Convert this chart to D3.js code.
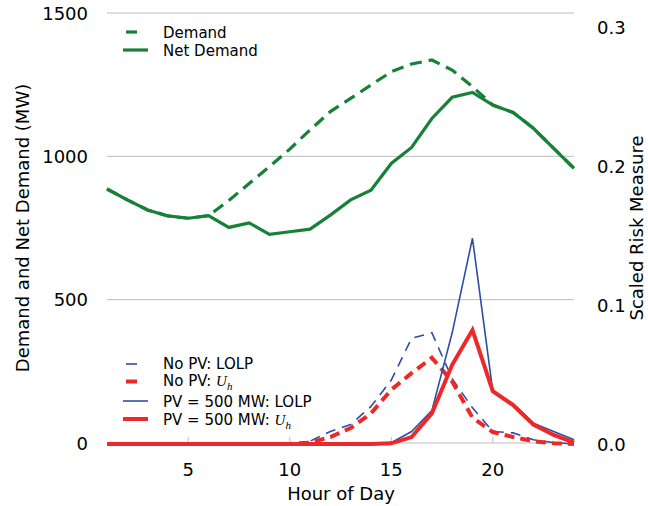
<!DOCTYPE html>
<html>
<head>
<meta charset="utf-8">
<script src="https://cdn.jsdelivr.net/npm/d3@7"></script>
<style>
  body { margin: 0; background: #fff; }
  text { font-family: "DejaVu Sans", sans-serif; fill: #000; }
</style>
</head>
<body>
<div id="chart"></div>
<script>
// hourly data
const hours = [1, 2, 3, 4, 5, 6, 7, 8, 9, 10, 11, 12, 13, 14, 15, 16, 17, 18, 19, 20, 21, 22, 23, 24];
const demand = [886, 848, 813, 792, 784, 793, 846, 905, 964, 1025, 1092, 1156, 1202, 1249, 1295, 1322, 1336, 1301, 1243, 1179, 1153, 1098, 1028, 958];
const netDemand = [886, 848, 813, 792, 784, 793, 752, 768, 728, 737, 746, 795, 848, 882, 975, 1031, 1132, 1206, 1223, 1179, 1153, 1098, 1028, 958];
const lolpNoPV = [0, 0, 0, 0, 0, 0, 0, 0, 0, 0, 0.002, 0.009, 0.014, 0.027, 0.046, 0.076, 0.080, 0.047, 0.026, 0.009, 0.008, 0.003, 0.001, 0];
const uhNoPV = [0, 0, 0, 0, 0, 0, 0, 0, 0, 0, 0.001, 0.005, 0.0115, 0.022, 0.039, 0.051, 0.062, 0.045, 0.019, 0.0086, 0.005, 0.002, 0.0005, 0];
const lolpPV500 = [0, 0, 0, 0, 0, 0, 0, 0, 0, 0, 0, 0, 0, 0, 0.001, 0.009, 0.024, 0.080, 0.148, 0.038, 0.029, 0.015, 0.009, 0.003];
const uhPV500 = [0, 0, 0, 0, 0, 0, 0, 0, 0, 0, 0, 0, 0, 0, 0.0005, 0.005, 0.022, 0.057, 0.082, 0.038, 0.028, 0.014, 0.0065, 0.001];

const xTicks = [5, 10, 15, 20];
const leftTicks = [0, 500, 1000, 1500];
const rightTicks = [0, 0.1, 0.2, 0.3];

const width = 648, height = 506;
const green = "#178138", blue = "#2d4ea6", red = "#ee2828";

const svg = d3.select("#chart").append("svg")
  .attr("width", width)
  .attr("height", height);

const x = d3.scaleLinear().domain([1, 24]).range([107, 574]);
const y = d3.scaleLinear().domain([0, 1500]).range([443, 13]);
const yR = d3.scaleLinear().domain([0, 0.3]).range([444, 27]);

// gridlines
svg.append("g").selectAll("line")
  .data(leftTicks)
  .enter().append("line")
  .attr("x1", x(1)).attr("x2", x(24))
  .attr("y1", d => y(d)).attr("y2", d => y(d))
  .attr("stroke", "#bcbcbc").attr("stroke-width", 1);

// x ticks (small, pointing up)
svg.append("g").selectAll("line")
  .data(xTicks)
  .enter().append("line")
  .attr("x1", d => x(d)).attr("x2", d => x(d))
  .attr("y1", y(0)).attr("y2", y(0) - 6)
  .attr("stroke", "#bcbcbc").attr("stroke-width", 1);

// tick labels
svg.append("g").selectAll("text")
  .data(xTicks)
  .enter().append("text")
  .attr("x", d => x(d)).attr("y", 476)
  .attr("text-anchor", "middle")
  .style("font-size", "18px")
  .text(d => d);

svg.append("g").selectAll("text")
  .data(leftTicks)
  .enter().append("text")
  .attr("x", 88).attr("y", d => y(d) + 6.5)
  .attr("text-anchor", "end")
  .style("font-size", "18px")
  .text(d => d);

svg.append("g").selectAll("text")
  .data(rightTicks)
  .enter().append("text")
  .attr("x", 597).attr("y", d => yR(d) + 6.5)
  .style("font-size", "18px")
  .text(d => d.toFixed(1));

// axis titles
svg.append("text")
  .attr("x", 341).attr("y", 500)
  .attr("text-anchor", "middle")
  .style("font-size", "18px")
  .text("Hour of Day");

svg.append("text")
  .attr("transform", "translate(29,228) rotate(-90)")
  .attr("text-anchor", "middle")
  .style("font-size", "18px")
  .text("Demand and Net Demand (MW)");

svg.append("text")
  .attr("transform", "translate(643,228) rotate(-90)")
  .attr("text-anchor", "middle")
  .style("font-size", "18px")
  .text("Scaled Risk Measure");

// lines
const lineL = d3.line().x((d, i) => x(hours[i])).y(d => y(d));
const lineR = d3.line().x((d, i) => x(hours[i])).y(d => yR(d));

svg.append("path").datum(demand)
  .attr("d", lineL).attr("fill", "none")
  .attr("stroke", green).attr("stroke-width", 3.2)
  .attr("stroke-dasharray", "12,7");

svg.append("path").datum(netDemand)
  .attr("d", lineL).attr("fill", "none")
  .attr("stroke", green).attr("stroke-width", 3.2);

svg.append("path").datum(lolpNoPV)
  .attr("d", lineR).attr("fill", "none")
  .attr("stroke", blue).attr("stroke-width", 1.6)
  .attr("stroke-dasharray", "10,7");

svg.append("path").datum(uhNoPV)
  .attr("d", lineR).attr("fill", "none")
  .attr("stroke", red).attr("stroke-width", 4)
  .attr("stroke-dasharray", "10,6");

svg.append("path").datum(lolpPV500)
  .attr("d", lineR).attr("fill", "none")
  .attr("stroke", blue).attr("stroke-width", 1.6);

svg.append("path").datum(uhPV500)
  .attr("d", lineR).attr("fill", "none")
  .attr("stroke", red).attr("stroke-width", 4);

// legends
function legendRow(yc, color, w, dashed, parts, textY) {
  if (dashed) {
    svg.append("line").attr("x1", 126).attr("x2", 137)
      .attr("y1", yc).attr("y2", yc)
      .attr("stroke", color).attr("stroke-width", w);
  } else {
    svg.append("line").attr("x1", 123).attr("x2", 148)
      .attr("y1", yc).attr("y2", yc)
      .attr("stroke", color).attr("stroke-width", w);
  }
  const t = svg.append("text").attr("x", 163).attr("y", textY)
    .style("font-size", "15px");
  t.append("tspan").text(parts[0]);
  if (parts[1]) {
    t.append("tspan").text("U")
      .style("font-family", "'Liberation Serif', serif")
      .style("font-style", "italic").style("font-size", "15px");
    t.append("tspan").text("h").attr("dy", 4)
      .style("font-family", "'Liberation Serif', serif")
      .style("font-style", "italic").style("font-size", "11px");
  }
}

legendRow(32, green, 3.2, true, ["Demand"], 38);
legendRow(50, green, 3.2, false, ["Net Demand"], 56);

legendRow(364, blue, 1.6, true, ["No PV: LOLP"], 368.5);
legendRow(381.5, red, 4, true, ["No PV:\u00a0"], 386);
legendRow(401, blue, 1.6, false, ["PV = 500 MW: LOLP"], 407);
legendRow(419, red, 4, false, ["PV = 500 MW:\u00a0", true], 425);

// the U_h math part of the second No PV row
svg.selectAll("text").filter(function() { return d3.select(this).text() === "No PV:\u00a0"; })
  .each(function() {
    const t = d3.select(this);
    t.append("tspan").text("U")
      .style("font-family", "'Liberation Serif', serif")
      .style("font-style", "italic").style("font-size", "15px");
    t.append("tspan").text("h").attr("dy", 4)
      .style("font-family", "'Liberation Serif', serif")
      .style("font-style", "italic").style("font-size", "11px");
  });
</script>
</body>
</html>
